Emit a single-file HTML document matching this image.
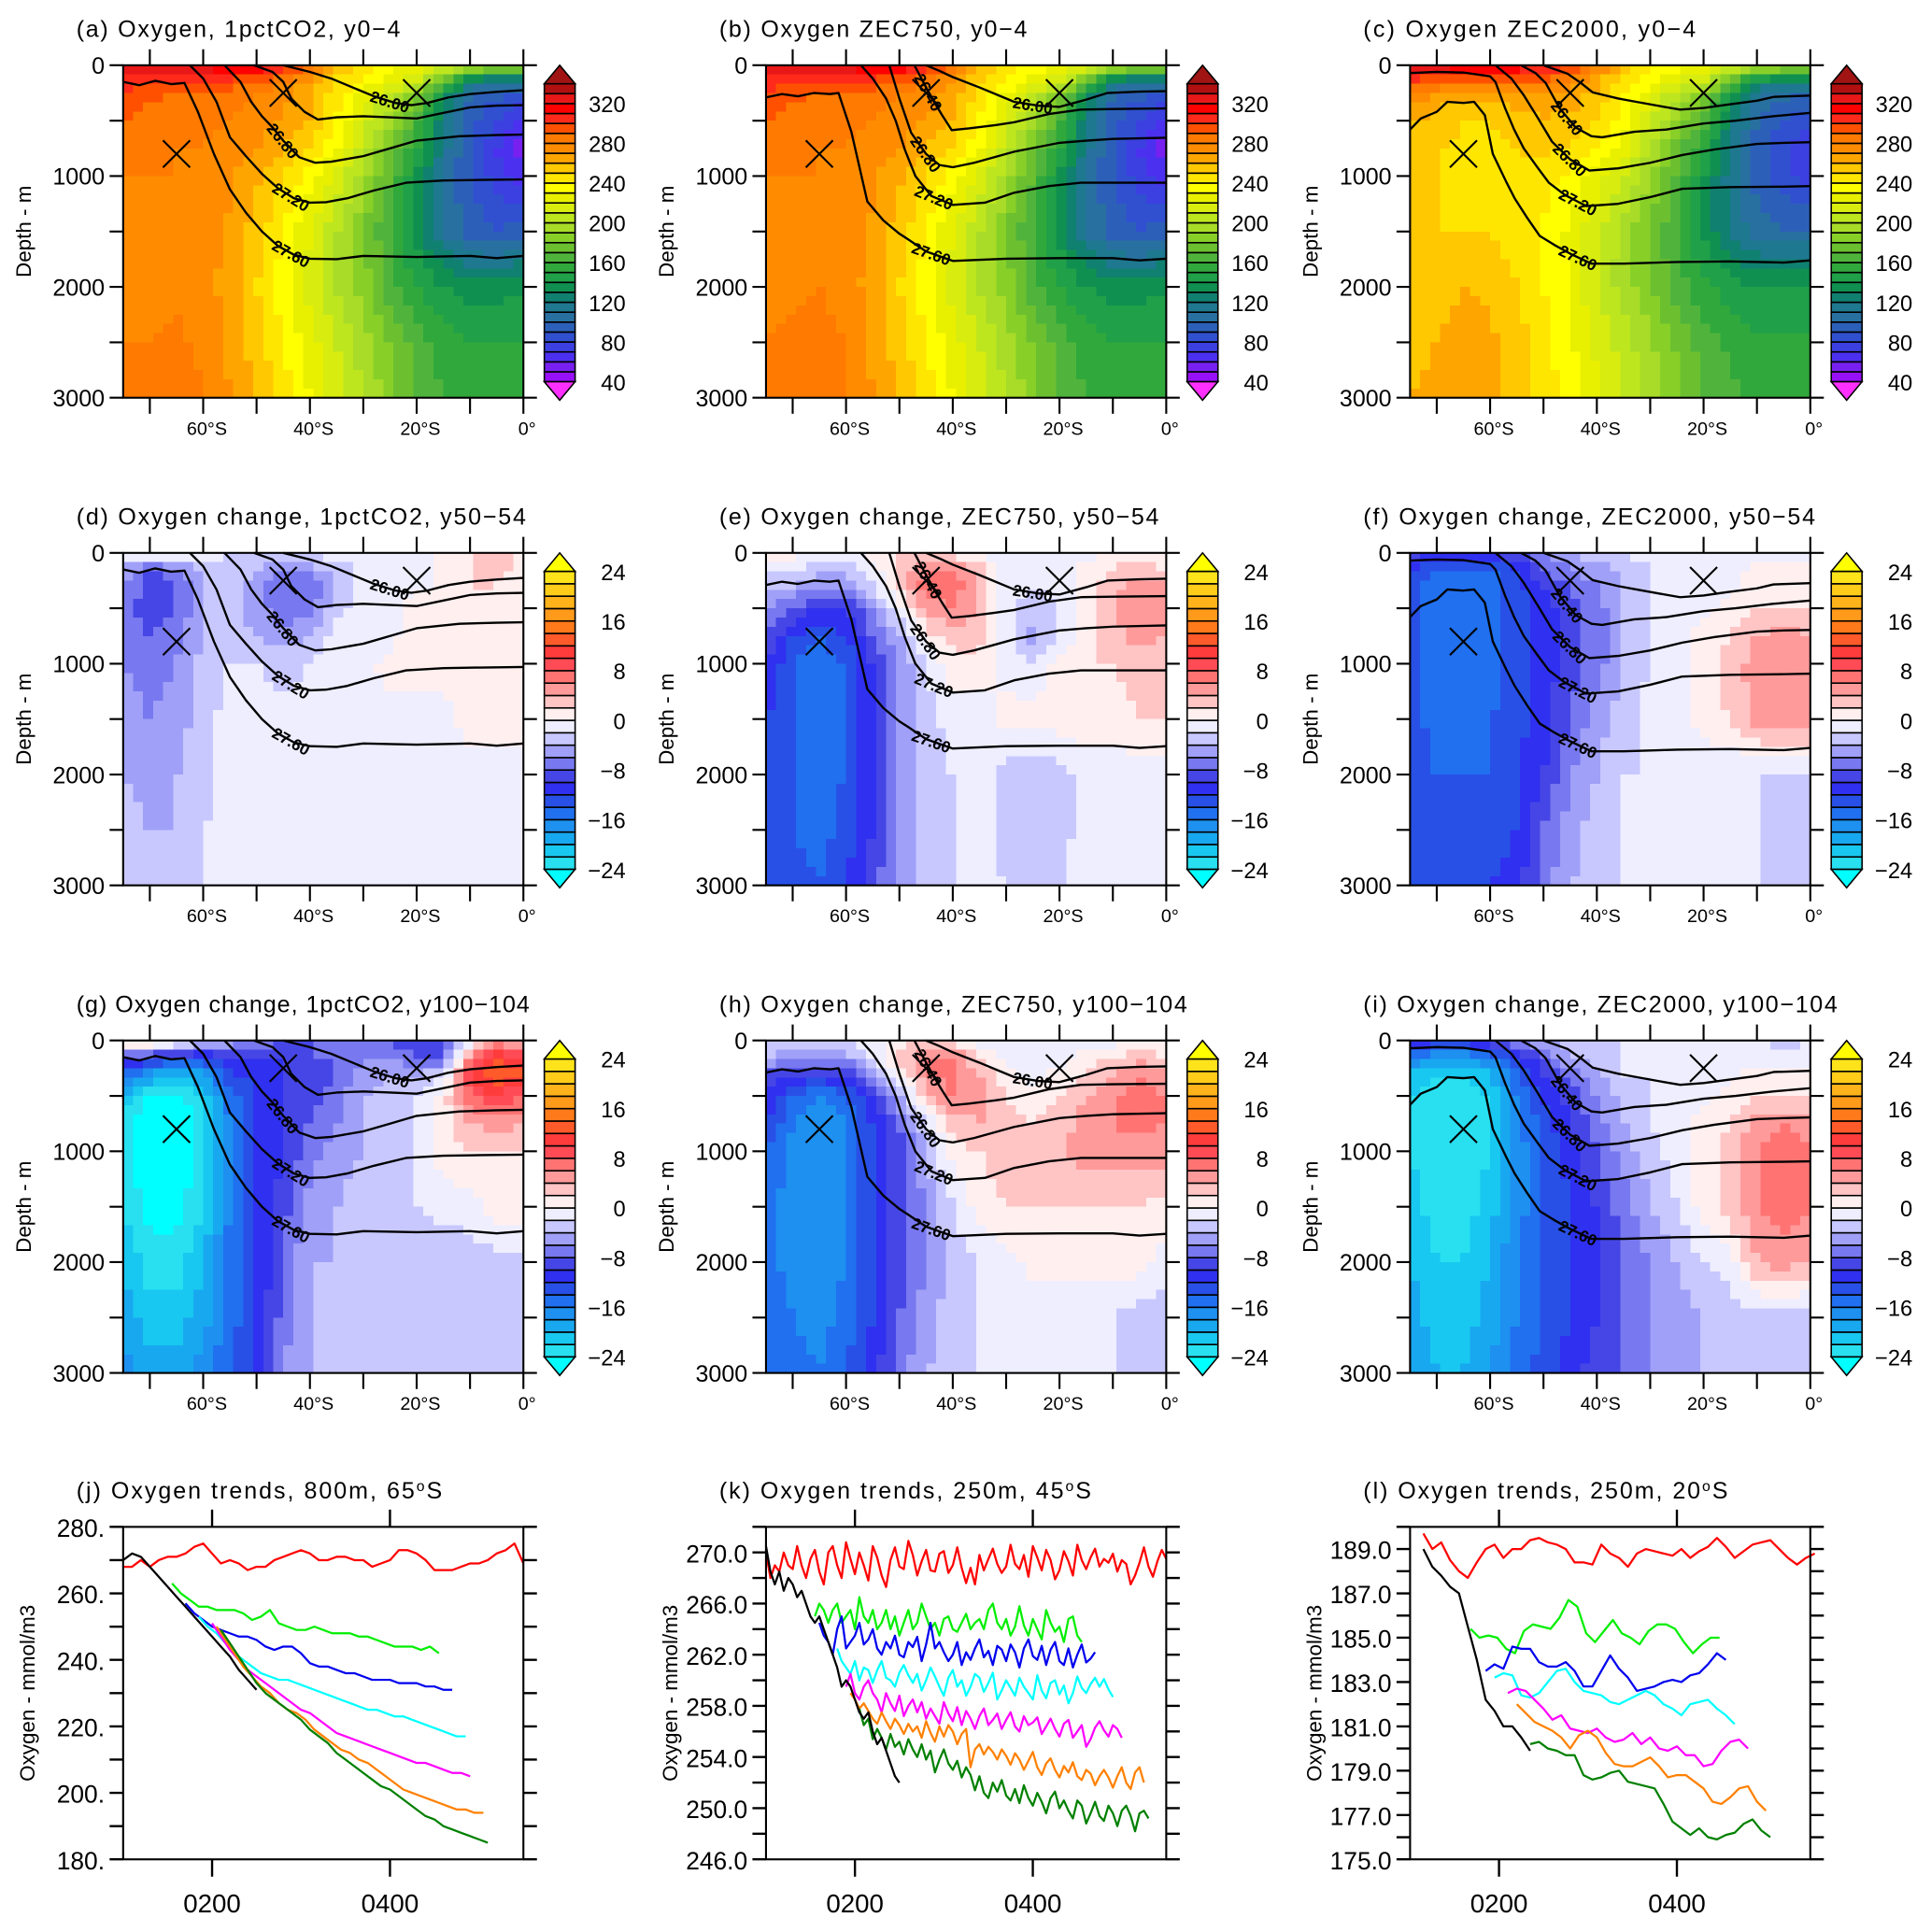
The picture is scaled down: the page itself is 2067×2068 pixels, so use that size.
<!DOCTYPE html>
<html><head><meta charset="utf-8"><title>Oxygen sections and trends</title>
<style>
html,body{margin:0;padding:0;background:#fff;}
svg{display:block;font-family:"Liberation Sans",sans-serif;}
</style></head>
<body>
<svg id="fig" xmlns="http://www.w3.org/2000/svg" width="2067" height="2068" viewBox="0 0 1568 1569" preserveAspectRatio="none"></svg>
<script>
// ---------- section data ----------
const lats = [-75,-70,-65,-60,-55,-50,-45,-40,-35,-30,-25,-20,-15,-10,-5,0];
const depths = [0,150,300,500,750,1000,1500,2000,2500,3000];
const oxyA = [
[335,335,330,330,325,320,310,290,260,245,235,230,220,210,200,195],
[305,300,300,298,295,290,280,265,248,238,225,212,170,120,110,115],
[298,292,288,288,284,279,273,262,244,224,204,180,130,100,90,80],
[290,285,285,285,280,275,270,260,240,215,195,165,120,95,80,65],
[285,280,280,280,275,270,260,250,230,205,180,150,115,90,70,55],
[280,280,280,278,272,262,250,235,215,195,170,140,110,90,75,65],
[278,278,278,275,268,255,240,220,200,180,160,135,110,95,90,95],
[278,278,278,275,265,250,235,215,200,185,165,150,140,135,135,140],
[280,280,282,278,268,255,240,225,210,195,180,165,155,150,150,150],
[280,282,285,280,270,258,245,230,215,200,185,170,160,155,155,155]];
const oxyB = [
[335,335,330,330,325,320,310,292,262,245,235,230,220,210,200,195],
[305,300,300,298,295,290,282,268,250,240,225,213,172,122,110,115],
[298,292,288,288,284,279,273,263,245,225,205,180,132,100,90,80],
[290,285,285,285,280,275,270,260,240,215,195,165,120,95,80,65],
[285,280,280,280,275,270,260,250,230,205,180,150,115,90,70,55],
[280,280,280,278,272,262,250,235,215,195,170,140,110,90,75,65],
[278,278,278,275,268,255,240,220,200,180,160,135,110,95,90,95],
[278,278,280,276,265,250,235,215,200,185,165,150,140,135,135,140],
[280,282,284,280,268,255,240,225,210,195,180,165,155,150,150,150],
[282,284,286,281,270,258,245,230,215,200,185,170,160,155,155,155]];
const oxyC = [
[335,335,330,325,320,315,305,285,260,245,235,230,220,210,200,195],
[295,290,288,288,288,286,276,262,244,234,220,210,170,130,120,125],
[275,265,260,260,265,268,265,255,240,220,200,180,140,110,100,95],
[262,255,250,250,255,258,258,250,235,210,190,165,125,100,90,80],
[255,250,248,248,250,252,250,240,225,200,175,150,120,95,80,70],
[252,250,248,248,248,245,238,225,210,190,168,140,115,95,85,75],
[252,250,250,250,245,238,228,212,195,178,160,138,118,105,100,100],
[255,255,260,258,250,240,228,210,195,182,165,152,145,140,140,140],
[258,260,265,262,255,245,232,218,205,192,178,165,158,152,152,152],
[260,262,265,262,255,245,235,222,210,198,183,170,162,158,158,158]];
const chgD = [
[2,2,1,-1,-2,-2,-2,-2,-1,-1,-1,-1,0,2,3,1],
[-5,-8,-7,-3,-3,-4,-6,-5,-3,-2,-2,-1,1,2,3,1],
[-6,-9,-8,-4,-3,-5,-8,-8,-4,-1,-1,-1,1,2,2,1],
[-7,-9,-8,-4,-3,-5,-8,-7,-3,-1,-1,2,1,1,2,1],
[-7,-8,-7,-4,-3,-4,-5,-4,-1,-1,-1,2,1,1,1,1],
[-6,-7,-6,-3,-2,-2,-3,-2,-1,-1,1,1,1,1,1,1],
[-5,-6,-5,-3,-1,-1,-1,-1,-1,-1,-1,-1,-1,1,1,1],
[-4,-5,-4,-3,-1,-1,-1,-1,-1,-1,-1,-1,-1,-1,-1,-1],
[-3,-4,-4,-2,-1,-1,-1,-1,-1,-1,-1,-1,-1,-1,-1,-1],
[-3,-3,-3,-2,-1,-1,-1,-1,-1,-1,-1,-1,-1,-1,-1,-1]];
const chgE = [
[1,1,0,-1,1,2,2,1,-1,-1,-1,-1,-1,1,1,1],
[-2,-2,-3,-3,-1,3,6,6,3,-1,-1,-1,1,2,3,2],
[-3,-4,-6,-6,-2,3,7,7,4,-1,-2,-1,1,3,5,4],
[-5,-8,-10,-10,-6,-1,5,6,4,-1,-3,-2,1,4,6,5],
[-8,-12,-14,-12,-8,-4,1,3,3,-1,-5,-2,1,3,5,4],
[-10,-14,-15,-14,-10,-6,-2,1,1,-1,-2,1,2,2,3,3],
[-12,-14,-15,-14,-10,-6,-3,-1,-1,1,1,1,1,1,2,2],
[-12,-14,-15,-14,-10,-6,-3,-2,-1,-3,-4,-3,-1,-1,-1,-1],
[-12,-14,-15,-13,-10,-5,-3,-2,-1,-3,-4,-3,-1,-1,-1,-1],
[-12,-13,-14,-12,-9,-5,-3,-2,-1,-2,-3,-2,-1,-1,-1,-1]];
const chgF = [
[-8,-10,-10,-10,-8,-6,-4,-3,-2,-1,-1,-1,-1,-1,-1,-1],
[-12,-14,-14,-14,-12,-8,-6,-5,-3,-2,-1,-1,-1,1,1,1],
[-13,-15,-15,-15,-13,-10,-8,-6,-4,-2,-1,-1,-1,1,1,1],
[-13,-15,-15,-15,-13,-11,-9,-7,-4,-2,-1,-1,1,2,2,2],
[-13,-15,-15,-15,-13,-11,-9,-7,-4,-2,-1,1,2,4,5,4],
[-13,-15,-15,-15,-13,-11,-9,-7,-4,-2,-1,1,3,5,6,5],
[-13,-15,-15,-14,-13,-11,-8,-5,-3,-1,-1,1,2,5,6,5],
[-13,-14,-14,-14,-12,-10,-6,-4,-2,-2,-2,-2,-2,-2,-2,-2],
[-13,-14,-14,-13,-12,-8,-5,-3,-2,-2,-2,-2,-2,-2,-3,-2],
[-13,-13,-13,-12,-11,-7,-4,-3,-2,-2,-2,-2,-2,-2,-2,-2]];
const chgG = [
[6,4,2,-2,-4,-6,-8,-8,-8,-8,-8,-10,-8,-2,4,2],
[-8,-10,-12,-12,-10,-10,-10,-8,-8,-6,-6,-8,-8,6,12,10],
[-14,-18,-20,-18,-12,-12,-10,-9,-8,-5,-4,-4,-3,10,14,12],
[-20,-24,-25,-22,-15,-12,-10,-9,-7,-4,-3,-2,1,8,10,8],
[-23,-26,-26,-23,-16,-12,-10,-8,-6,-4,-3,-2,1,4,5,4],
[-23,-26,-26,-23,-16,-12,-10,-7,-5,-4,-3,-2,1,2,2,2],
[-22,-25,-25,-22,-16,-12,-9,-5,-4,-3,-3,-2,-1,-1,1,1],
[-20,-23,-23,-20,-15,-12,-8,-4,-4,-4,-4,-4,-4,-3,-3,-3],
[-19,-21,-21,-19,-15,-12,-7,-4,-4,-4,-4,-4,-4,-4,-4,-4],
[-17,-19,-19,-17,-14,-12,-6,-4,-4,-4,-4,-4,-3,-3,-2,-2]];
const chgH = [
[-2,-2,-2,-2,-1,1,2,1,-1,-1,-2,-1,-1,-1,1,-1],
[-4,-6,-6,-5,-2,3,6,6,2,-1,-2,-1,1,2,3,2],
[-8,-10,-10,-10,-5,1,6,7,4,1,-1,1,2,4,6,5],
[-10,-14,-16,-14,-10,-4,3,6,5,2,1,2,4,6,7,6],
[-12,-16,-18,-16,-12,-8,-2,3,4,3,2,3,5,6,7,6],
[-14,-17,-18,-16,-12,-9,-4,1,2,3,3,4,5,5,5,5],
[-15,-17,-18,-16,-12,-9,-6,-2,1,2,2,2,2,2,2,1],
[-15,-17,-18,-16,-12,-9,-6,-3,-2,-1,1,1,1,1,1,-1],
[-14,-16,-17,-15,-12,-8,-5,-3,-2,-2,-2,-2,-2,-2,-3,-3],
[-14,-15,-16,-14,-11,-7,-4,-3,-2,-2,-2,-2,-2,-2,-3,-3]];
const chgI = [
[-8,-10,-10,-8,-6,-4,-3,-2,-2,-2,-1,-1,-1,-2,-3,-2],
[-16,-18,-18,-16,-12,-8,-4,-3,-2,-2,-1,-1,-1,-1,-1,-1],
[-20,-22,-22,-20,-14,-10,-7,-4,-2,-2,-1,-1,-1,1,1,1],
[-22,-24,-24,-22,-16,-12,-9,-6,-3,-2,-1,-1,1,2,2,2],
[-22,-24,-24,-22,-17,-13,-10,-7,-4,-2,-1,1,2,5,6,5],
[-22,-24,-24,-22,-17,-14,-11,-8,-5,-3,-1,1,3,6,7,6],
[-21,-23,-23,-21,-17,-14,-12,-10,-7,-4,-2,1,3,6,7,6],
[-20,-22,-22,-20,-16,-14,-12,-10,-8,-6,-4,-2,-1,4,5,4],
[-19,-21,-21,-19,-16,-14,-12,-10,-8,-6,-5,-4,-3,-3,-3,-3],
[-18,-20,-20,-18,-15,-13,-11,-9,-8,-6,-5,-4,-4,-4,-4,-4]];

// density contours per experiment column: [level, lats, depths, label lat or null]
const cont1 = [
["27.60",[-75,-72,-69,-66,-63.5,-61,-58,-55,-52,-49,-46,-43,-40,-35,-30,-20,-10,-5,0],[150,180,140,170,160,420,800,1120,1330,1500,1630,1710,1745,1750,1720,1730,1720,1740,1720],-43.5],
["27.20",[-62.5,-60,-57.5,-55,-52,-49,-46,-43,-40,-37,-33,-28,-22,-15,-8,0],[0,120,330,650,820,980,1110,1200,1240,1235,1200,1130,1060,1040,1035,1030],-43.5],
["26.80",[-56,-53,-51,-49,-47,-45,-42,-39,-36,-30,-25,-20,-12,-5,0],[0,150,330,460,560,680,830,880,870,820,750,680,640,630,625],-45],
["26.40",[-50.5,-47,-45,-43.5,-41,-38.5,-35,-30,-25,-20,-15,-10,-5,0],[0,60,150,300,420,490,470,460,470,480,430,380,365,360],null],
["26.00",[-45,-40,-36,-32,-28,-24,-21,-18,-14,-10,-5,0],[0,60,120,200,280,340,360,340,290,260,240,225],-25]];
const cont2 = [
["27.60",[-75,-72,-69,-66,-63,-61.4,-59,-56,-53,-50,-48.4,-45,-40,-30,-20,-10,-5,0],[290,260,280,250,260,250,600,1230,1400,1520,1570,1680,1765,1745,1740,1740,1760,1745],-44],
["27.20",[-57.2,-55,-52.5,-50.7,-49,-47,-44,-40,-34,-28.5,-22,-16,-10,0],[0,120,300,500,760,1000,1180,1260,1240,1150,1090,1060,1060,1060],-43.5],
["26.80",[-51.9,-50,-47.8,-45,-42.5,-40,-36,-28.5,-20,-15,-10,0],[0,300,610,800,900,920,880,780,700,680,665,655],-45],
["26.40",[-47.2,-45,-43.5,-42,-40.2,-37,-32,-28.5,-22,-16,-10,0],[0,200,330,450,585,570,540,515,440,400,395,390],-44.5],
["26.00",[-45,-42.5,-40,-35,-28.5,-24,-20,-15,-11,-5,0],[0,50,107,200,330,365,375,310,250,238,233],-25]];
const cont3 = [
["27.60",[-75,-73,-70,-68,-65,-63,-61,-59.5,-57,-55.4,-53,-50.7,-48,-45,-41,-35,-25,-15,-5,0],[580,480,420,330,340,330,450,800,1050,1200,1380,1540,1620,1700,1790,1790,1775,1770,1780,1760],-43.5],
["27.20",[-75,-70,-65,-60,-59,-57.2,-55.5,-53.7,-51,-49,-46,-42,-36,-30,-24,-15,-5,0],[70,60,65,100,150,385,580,750,930,1060,1170,1270,1250,1190,1115,1100,1095,1090],-43.5],
["26.80",[-59,-56,-53.7,-51,-48.4,-45,-41.4,-36,-30,-24,-18,-10,-5,0],[0,120,270,480,690,850,950,930,880,810,760,710,700,695],-45],
["26.40",[-54.2,-51.5,-49.6,-47,-44,-41,-39,-33,-27,-20,-14,-7,0],[0,70,160,385,560,640,650,600,580,525,500,460,430],-45.5],
["26.00",[-50,-45.5,-43,-40.8,-36,-32.6,-28,-24.4,-20,-15.6,-10,-6.9,0],[0,75,160,245,300,330,370,400,385,355,320,285,273],null]];
const markerLats = [-65,-45,-20];
const markerDepths = [800,250,250];

const oxyTicks = [320,280,240,200,160,120,80,40];
const chgTicks = [24,16,8,0,-8,-16,-24];
const depthTicks = [0,1000,2000,3000];
const latTicks = [-60,-40,-20,0];
const latTickLabels = ["60°S","40°S","20°S","0°"];

const oxyColors = ["#9810f8","#7820f0","#4c30f0","#3c40e0","#3050d0","#2c60b8","#2870a0","#1e7890","#108070","#109050","#20a048","#30a83c","#50b43c","#6cc030","#88d028","#a8dc28","#bee61e","#d8ec10","#e8f000","#ffff00","#ffe600","#ffc800","#ffa500","#ff8c00","#ff7a00","#ff5000","#ff2a1a","#ff0000","#e81818","#b01010"];
const chgColors = ["#28e0f0","#18c8f0","#18a8f0","#1e90f0","#2070f0","#2850e6","#3030f0","#4646e6","#7878f0","#a0a0f8","#c8c8ff","#eeeeff","#ffefef","#ffc4c4","#ff9a9a","#ff7373","#ff4b55","#ff3c3c","#ff5a2a","#ff7a1a","#ff9a1a","#ffb31a","#ffcc1a","#ffe31a"];

// ---------- trend data ----------
const jRedStart=100, jRed=[268,268,270,268,270,271,271,272,274,275,272,269,270,269,267,268,268,270,271,272,273,272,270,270,271,271,270,270,268,269,270,273,273,272,270,267,267,267,268,269,269,270,272,273,275,269];
const jBlackStart=100, jBlack=[270,272,271,268,265,262,259,256,253,250,247,244,241,237,234,231];
const jGreenStart=155, jGreen=[263,260,258,256,256,255,255,255,254,252,253,255,251,250,249,249,250,249,248,248,248,247,247,246,245,244,244,244,243,244,242];
const jBlueStart=170, jBlue=[257,254,252,250,249,248,247,247,246,244,243,244,244,242,239,238,238,237,236,236,235,234,234,234,233,233,233,232,232,231,231];
const jCyanStart=185, jCyan=[253,250,248,245,242,240,238,236,235,234,234,233,232,231,230,229,228,227,226,225,225,224,223,223,222,221,220,219,218,217,217];
const jMagStart=200, jMag=[251,247,243,240,237,235,233,231,229,227,225,224,222,220,218,217,216,215,214,213,212,211,210,209,209,208,207,206,206,205];
const jOrangeStart=205, jOrange=[250,246,242,238,235,232,230,227,225,224,222,219,217,215,213,212,210,209,207,205,203,201,200,199,198,197,196,195,195,194,194];
const jDkgStart=210, jDkg=[249,245,241,237,233,230,228,226,224,222,219,217,215,212,210,208,206,204,202,201,199,197,195,193,192,190,189,188,187,186,185];

const kRedStart=100, kRed=[270,268,269,268.5,270,269,268.7,270.5,269,268,269.5,270.2,268.5,267.5,270,270.5,269,268,270.8,269.5,268.3,270,269,267.8,270.5,269.6,268.2,267.3,269.4,270.4,268.9,268.7,270.9,269.8,268.2,269.3,270.2,268.6,268.5,269.9,270.1,268.4,269,270.4,268.8,267.6,268.8,267.5,269.8,268.6,269.5,270.3,269.1,268.4,268.9,270.6,269.1,268.7,269.8,268.1,270.5,269.6,268.6,270.2,269.4,267.9,268.6,270.1,269.3,268.2,270.6,269.4,268.7,269.6,270.3,268.9,269.5,269.2,269.9,268.5,269.4,269.1,267.5,268.2,269.2,270.4,268.9,268.1,269.3,270.2,269.5];
const kBlackStart=100, kBlack=[270.5,268.5,267.5,268.5,267,268,267.5,266.5,267,266,265,264.5,265,264,263,262,261,259.5,260,259.5,258.5,257.5,257,257.5,256,255,255.5,254.5,253.5,252.5,252];
const kGreenStart=155, kGreen=[265,266,265.5,264.5,265.5,266,264.5,265,265.5,264,266.5,265,264.5,265.5,264,264.5,265.5,264,265,263.5,264.5,265.5,264,264.5,266,265,264,264.5,263.5,264.8,265,264,263.8,264.5,265.2,264,264.5,264.8,264,265.5,266,264.5,264,264.8,263.5,264.2,265.8,264.3,263.5,264.8,264,263.2,265.5,264.5,263.8,264.2,263,264.8,265,263.5,263];
const kBlueStart=160, kBlue=[264.5,263.5,263,262,264,265,262.5,263,263.5,264.5,262.8,263.2,264,262.5,262,263,262.5,263.5,262,261.8,263,262.6,263.4,261.5,262.8,264.5,262.5,263,262.2,261.5,262,263,261.2,262.2,261.6,262.5,263.2,261.8,262.3,261.2,262.7,262.4,261.5,262.8,262.2,261,262.5,263.2,261.9,261.6,262.7,261.2,262.4,263,261.5,261.2,262.5,261,262,262.8,261.4,261.7,262.2];
const kCyanStart=180, kCyan=[262.5,261.5,261,260.5,261.5,260,261,260.8,259.8,260.8,261.5,260.2,260,259.5,260.6,261.2,260.4,259.8,260.5,259.2,260,261,260.3,259.5,258.8,260.2,260.8,259.5,260,258.8,259.5,260.5,260.2,259.1,259.8,260.6,258.5,259.2,260,259.4,258.8,260.2,259.5,259,258.5,260.4,259.2,258.6,259.8,260,258.9,259.6,258.2,259,260.3,259.4,259,259.7,260.2,259.5,260.1,259.3,258.7];
const kMagStart=190, kMag=[259.5,260.5,259,258.5,259.5,260,259,258.5,257.5,259,258.2,257.6,258.8,257.2,258,258.5,257.5,258.3,257,257.8,257.2,256.6,258.3,257.4,256.8,257.9,256.5,257.6,257,256.2,257.2,257.8,256.5,256.9,257.4,256.2,256.9,257.5,256.4,256,257.2,256.5,256.7,257.1,255.8,256.4,257,256.2,255.6,256.6,256.9,255.5,256,256.5,254.8,255.4,256.3,256.8,256.1,255.6,256.5,256.2,255.5];
const kOrangeStart=195, kOrange=[259,258.5,257.8,258.2,257.6,257,256.6,257.5,256.8,256.2,257,256.5,255.8,256.6,256,256.4,255.5,256.8,255.9,255.2,256.4,255.6,256.5,256,255,255.8,256.2,253.2,254.6,255,254.2,254.8,254.4,253.8,254.6,254.1,253.4,254.3,253.8,253,253.7,254.4,253.2,252.6,253.5,253.9,253,252.4,253.3,252.8,253.6,252.5,252.2,253,252.7,251.8,252.5,253,252.4,251.6,252.5,253.2,252,251.5,252.8,253.2,252];
const kDkgStart=205, kDkg=[257.8,256.5,257,255.4,256.2,255.5,254.6,255.8,254.8,255.2,254.2,255.4,254.6,254,255,253.8,254.5,252.8,253.8,254.6,253.5,253,253.7,252.4,253.2,252.6,251.4,252.5,251.2,250.8,252,251.3,252.2,251,250.6,251.5,250.4,251.8,250.8,250.2,251.2,250.5,249.6,250.8,251.3,250,250.6,249.8,249.2,250.6,250.2,248.8,249.6,250.5,249.4,249,250.2,249.6,248.6,249.8,250.2,249.4,248.2,249.6,249.8,249.2];

const lRedStart=115, lRed=[189.7,189.0,189.3,188.5,188.0,187.7,188.4,189.0,189.2,188.6,189.0,189.0,189.4,189.5,189.3,189.2,189.0,188.4,188.4,188.3,189.2,188.8,188.6,188.2,188.8,189.0,188.9,188.8,188.7,189.0,188.6,188.9,189.1,189.5,189.1,188.6,188.9,189.2,189.3,189.4,189.0,188.6,188.3,188.6,188.8];
const lBlackStart=115, lBlack=[189.0,188.2,187.8,187.3,187.0,185.5,184.0,182.2,181.7,181.0,181.0,180.5,179.9];
const lGreenStart=168, lGreen=[185.4,185.0,185.1,185.0,184.5,184.3,185.3,185.6,185.5,185.4,185.9,186.7,186.4,185.2,184.8,185.3,185.8,185.2,185.0,184.7,185.3,185.6,185.6,185.4,184.8,184.3,184.7,185.0,185.0];
const lBlueStart=185, lBlue=[183.5,183.8,183.6,184.6,184.5,184.5,183.9,183.7,183.7,183.9,183.5,182.8,182.8,183.5,184.2,183.6,183.2,182.6,182.7,182.8,183.0,183.1,183.0,183.3,183.4,183.8,184.3,184.0];
const lCyanStart=195, lCyan=[183.2,183.4,183.3,182.4,182.3,182.5,183.0,183.5,183.6,183.0,182.6,182.5,182.4,182.1,182.0,182.2,182.4,182.6,182.4,182.0,181.8,181.5,182.0,182.1,182.2,181.8,181.5,181.1];
const lMagStart=210, lMag=[182.5,182.7,182.6,182.2,181.8,181.3,181.5,180.9,180.8,180.7,180.9,180.5,180.3,180.4,180.7,180.2,180.5,180.0,179.9,180.1,179.7,179.7,179.2,179.3,179.9,180.3,180.4,180.0];
const lOrangeStart=220, lOrange=[182.0,181.6,181.2,181.0,180.8,180.5,180.0,180.6,180.8,180.5,179.8,179.3,179.2,179.2,179.4,179.6,179.2,178.7,178.8,178.8,178.5,178.2,177.6,177.5,177.8,178.2,178.3,177.6,177.2];
const lDkgStart=235, lDkg=[180.2,180.3,180.0,179.9,179.7,179.7,178.8,178.6,178.7,178.9,179.0,178.5,178.4,178.3,178.2,177.5,176.7,176.4,176.1,176.4,176.0,175.9,176.1,176.2,176.6,176.8,176.3,176.0];

// ---------- drawing ----------
const NS='http://www.w3.org/2000/svg';
const svg=document.getElementById('fig');
function mk(tag,attrs,parent){const e=document.createElementNS(NS,tag);for(const k in attrs)e.setAttribute(k,attrs[k]);(parent||svg).appendChild(e);return e;}
function txt(s,attrs,parent){const e=mk('text',attrs,parent);e.textContent=s;return e;}

const colX=[100,622,1145], rowY=[53,449,845,1240], PW=325, PH=270;

function interp(field,lat,dep){
  let i=Math.min(14,Math.max(0,Math.floor((lat+75)/5)));
  let fx=(lat-lats[i])/5;
  let j=0; while(j<depths.length-2 && dep>depths[j+1]) j++;
  let fz=(dep-depths[j])/(depths[j+1]-depths[j]);
  const a=field[j][i]*(1-fx)+field[j][i+1]*fx;
  const b=field[j+1][i]*(1-fx)+field[j+1][i+1]*fx;
  return a*(1-fz)+b*fz;
}
function oxyColor(v){const k=Math.floor((v-40)/10);if(k<0)return '#ff30ff';if(k>=30)return '#a01414';return oxyColors[k];}
function chgColor(v){const k=Math.floor((v+24)/2);if(k<0)return '#00ffff';if(k>=24)return '#ffff00';return chgColors[k];}

function section(px,py,field,isOxy,conts,title,titleLen,id){
  const g=mk('g',{});
  
  
  const sx=lat=>px+(lat+75)/75*PW;
  const sy=d=>py+d/3000*PH;
  const t=txt(title,{x:px-38,y:py-23,'font-size':19,textLength:titleLen,lengthAdjust:'spacing'},g);
  
  
  const hm=mk('g',{'shape-rendering':'crispEdges'},g);
  
  
  const NX=40,NZ=36;
  for(let a=0;a<NX;a++){
    for(let b=0;b<NZ;b++){
      const lat=-75+(a+0.5)*75/NX, dep=(b+0.5)*3000/NZ;
      const v=interp(field,lat,dep);
      const r=mk('rect',{x:sx(-75+a*75/NX),y:sy(b*3000/NZ),width:PW/NX+0.6,height:PH/NZ+0.6,fill:isOxy?oxyColor(v):chgColor(v)},hm);
      
      
    }
  }
  conts.forEach(c=>{
    let d='';
    c[1].forEach((la,k)=>{d+=(k?'L':'M')+sx(la).toFixed(1)+','+sy(c[2][k]).toFixed(1);});
    const p=mk('path',{d:d,fill:'none',stroke:'#000','stroke-width':1.8,'stroke-linejoin':'round'},g);
    
    
    if(c[3]!==null){
      const la=c[3];let k=0;while(k<c[1].length-2&&c[1][k+1]<la)k++;
      const f=(la-c[1][k])/(c[1][k+1]-c[1][k]);
      const dd=c[2][k]*(1-f)+c[2][k+1]*f;
      const ang=Math.atan2(sy(c[2][k+1])-sy(c[2][k]),sx(c[1][k+1])-sx(c[1][k]))*180/Math.PI;
      const X=sx(la),Y=sy(dd);
      const lb=txt(c[0],{x:X,y:Y+5,'font-size':13,'font-weight':'bold','text-anchor':'middle',transform:`rotate(${ang.toFixed(1)} ${X.toFixed(1)} ${Y.toFixed(1)})`},g);
      
      
    }
  });
  markerLats.forEach((la,k)=>{
    const X=sx(la),Y=sy(markerDepths[k]);
    const m=mk('path',{d:`M${X-11},${Y-11}L${X+11},${Y+11}M${X+11},${Y-11}L${X-11},${Y+11}`,stroke:'#000','stroke-width':1.6},g);
    
    
  });
  const fr=mk('rect',{x:px,y:py,width:PW,height:PH,fill:'none',stroke:'#000','stroke-width':1.6},g);
  
  
  let tk='';
  for(let la=-70;la<=0;la+=10){tk+=`M${sx(la)},${py}v-13M${sx(la)},${py+PH}v13`;}
  for(let dp=0;dp<=3000;dp+=500){tk+=`M${px},${sy(dp)}h-11M${px+PW},${sy(dp)}h11`;}
  const ticks=mk('path',{d:tk,stroke:'#000','stroke-width':1.6},g);
  
  
  depthTicks.forEach(dp=>{const l=txt(String(dp),{x:px-15,y:sy(dp)+7,'font-size':19,'text-anchor':'end'},g);
    
    });
  latTicks.forEach((la,k)=>{const l=txt(latTickLabels[k],{x:sx(la)+3,y:py+PH+30,'font-size':15,'text-anchor':'middle'},g);
    
    });
  const yl=txt('Depth - m',{x:0,y:0,'font-size':17,'text-anchor':'middle',transform:`translate(${px-75},${py+PH/2}) rotate(-90)`},g);
  
  
  const cb=mk('g',{},g);
  
  
  const cx=px+342,cw=25,top=py+15,bot=py+257;
  const cols=isOxy?oxyColors:chgColors, n=cols.length, bh=(bot-top)/n;
  cols.forEach((c,k)=>{const r=mk('rect',{x:cx,y:bot-(k+1)*bh,width:cw,height:bh,fill:c,stroke:'#000','stroke-width':1.2},cb);
    
    });
  const tu=mk('path',{d:`M${cx},${top}L${cx+cw/2},${py}L${cx+cw},${top}Z`,fill:isOxy?'#a01414':'#ffff00',stroke:'#000','stroke-width':1.2},cb);
  
  
  const td=mk('path',{d:`M${cx},${bot}L${cx+cw/2},${py+PH+2}L${cx+cw},${bot}Z`,fill:isOxy?'#ff30ff':'#00ffff',stroke:'#000','stroke-width':1.2},cb);
  
  
  const tks=isOxy?oxyTicks:chgTicks;
  tks.forEach(v=>{
    const yy=isOxy?bot-(v-40)/10*bh:bot-(v+24)/2*bh;
    const l=txt(v<0?'\u2212'+(-v):String(v),{x:px+408,y:yy+7,'font-size':18,'text-anchor':'end'},cb);
    
    
  });
}

const titles=[
["(a) Oxygen, 1pctCO2, y0\u22124",263],["(b) Oxygen ZEC750, y0\u22124",250],["(c) Oxygen ZEC2000, y0\u22124",270],
["(d) Oxygen change, 1pctCO2, y50\u221254",365],["(e) Oxygen change, ZEC750, y50\u221254",357],["(f) Oxygen change, ZEC2000, y50\u221254",367],
["(g) Oxygen change, 1pctCO2, y100\u2212104",368],["(h) Oxygen change, ZEC750, y100\u2212104",380],["(i) Oxygen change, ZEC2000, y100\u2212104",385]];
const fields=[oxyA,oxyB,oxyC,chgD,chgE,chgF,chgG,chgH,chgI];
const conts=[cont1,cont2,cont3];
const ids='abcdefghi';
for(let r=0;r<3;r++)for(let c=0;c<3;c++){
  const k=r*3+c;
  section(colX[c],rowY[r],fields[k],r===0,conts[c],titles[k][0],titles[k][1],ids[k]);
}

// ---------- trend plots ----------
function trend(px,py,ymin,ymax,labStep,minStep,dec,series,title,titleLen,id){
  const g=mk('g',{});
  
  
  const sx=yr=>px+(yr-100)/450*PW;
  const sy=v=>py+PH-(v-ymin)/(ymax-ymin)*PH;
  const t=txt(title,{x:px-38,y:py-23,'font-size':19,textLength:titleLen,lengthAdjust:'spacing'},g);
  const ts=mk('tspan',{'baseline-shift':'super','font-size':12},t);ts.textContent='o';
  const ts2=mk('tspan',{},t);ts2.textContent='S';
  
  
  series.forEach(s=>{
    let d='';
    s[2].forEach((v,k)=>{d+=(k?'L':'M')+sx(s[1]+k*s[3]).toFixed(1)+','+sy(v).toFixed(1);});
    const p=mk('path',{d:d,fill:'none',stroke:s[0],'stroke-width':1.7,'stroke-linejoin':'round'},g);
    
    
  });
  const fr=mk('rect',{x:px,y:py,width:PW,height:PH,fill:'none',stroke:'#000','stroke-width':1.6},g);
  
  
  let tk='';
  [200,400].forEach(yr=>{tk+=`M${sx(yr)},${py}v-14M${sx(yr)},${py+PH}v14`;});
  for(let v=ymin;v<=ymax+1e-6;v+=minStep){tk+=`M${px},${sy(v)}h-11M${px+PW},${sy(v)}h11`;}
  const ticks=mk('path',{d:tk,stroke:'#000','stroke-width':1.8},g);
  
  
  for(let v=ymin;v<=ymax+1e-6;v+=labStep){
    const l=txt(dec?v.toFixed(1):v+'.',{x:px-15,y:sy(v)+8,'font-size':20,'text-anchor':'end'},g);
    
    
  }
  ['0200','0400'].forEach((s,k)=>{const l=txt(s,{x:sx(200+200*k),y:py+PH+43,'font-size':21,'text-anchor':'middle'},g);
    
    });
  const yl=txt('Oxygen - mmol/m3',{x:0,y:0,'font-size':17,'text-anchor':'middle',transform:`translate(${px-72},${py+PH/2}) rotate(-90)`},g);
  
  
}
trend(colX[0],rowY[3],180,280,20,10,false,[
 ['#ff0000',jRedStart,jRed,10,'control'],['#000000',jBlackStart,jBlack,10,'1pctCO2'],['#00ee00',jGreenStart,jGreen,10,'zec-green'],
 ['#0000ee',jBlueStart,jBlue,10,'zec-blue'],['#00ffff',jCyanStart,jCyan,10,'zec-cyan'],['#ff00ff',jMagStart,jMag,10,'zec-magenta'],
 ['#ff8000',jOrangeStart,jOrange,10,'zec-orange'],['#008000',jDkgStart,jDkg,10,'zec-darkgreen']],
 '(j) Oxygen trends, 800m, 65',297,'j');
trend(colX[1],rowY[3],246,272,4,2,true,[
 ['#ff0000',kRedStart,kRed,5,'control'],['#00ee00',kGreenStart,kGreen,5,'zec-green'],
 ['#0000ee',kBlueStart,kBlue,5,'zec-blue'],['#00ffff',kCyanStart,kCyan,5,'zec-cyan'],['#ff00ff',kMagStart,kMag,5,'zec-magenta'],
 ['#ff8000',kOrangeStart,kOrange,5,'zec-orange'],['#008000',kDkgStart,kDkg,5,'zec-darkgreen'],['#000000',kBlackStart,kBlack,5,'1pctCO2']],
 '(k) Oxygen trends, 250m, 45',302,'k');
trend(colX[2],rowY[3],175,190,2,1,true,[
 ['#ff0000',lRedStart,lRed,10,'control'],['#000000',lBlackStart,lBlack,10,'1pctCO2'],['#00ee00',lGreenStart,lGreen,10,'zec-green'],
 ['#0000ee',lBlueStart,lBlue,10,'zec-blue'],['#00ffff',lCyanStart,lCyan,10,'zec-cyan'],['#ff00ff',lMagStart,lMag,10,'zec-magenta'],
 ['#ff8000',lOrangeStart,lOrange,10,'zec-orange'],['#008000',lDkgStart,lDkg,10,'zec-darkgreen']],
 '(l) Oxygen trends, 250m, 20',296,'l');
</script>
</body></html>
